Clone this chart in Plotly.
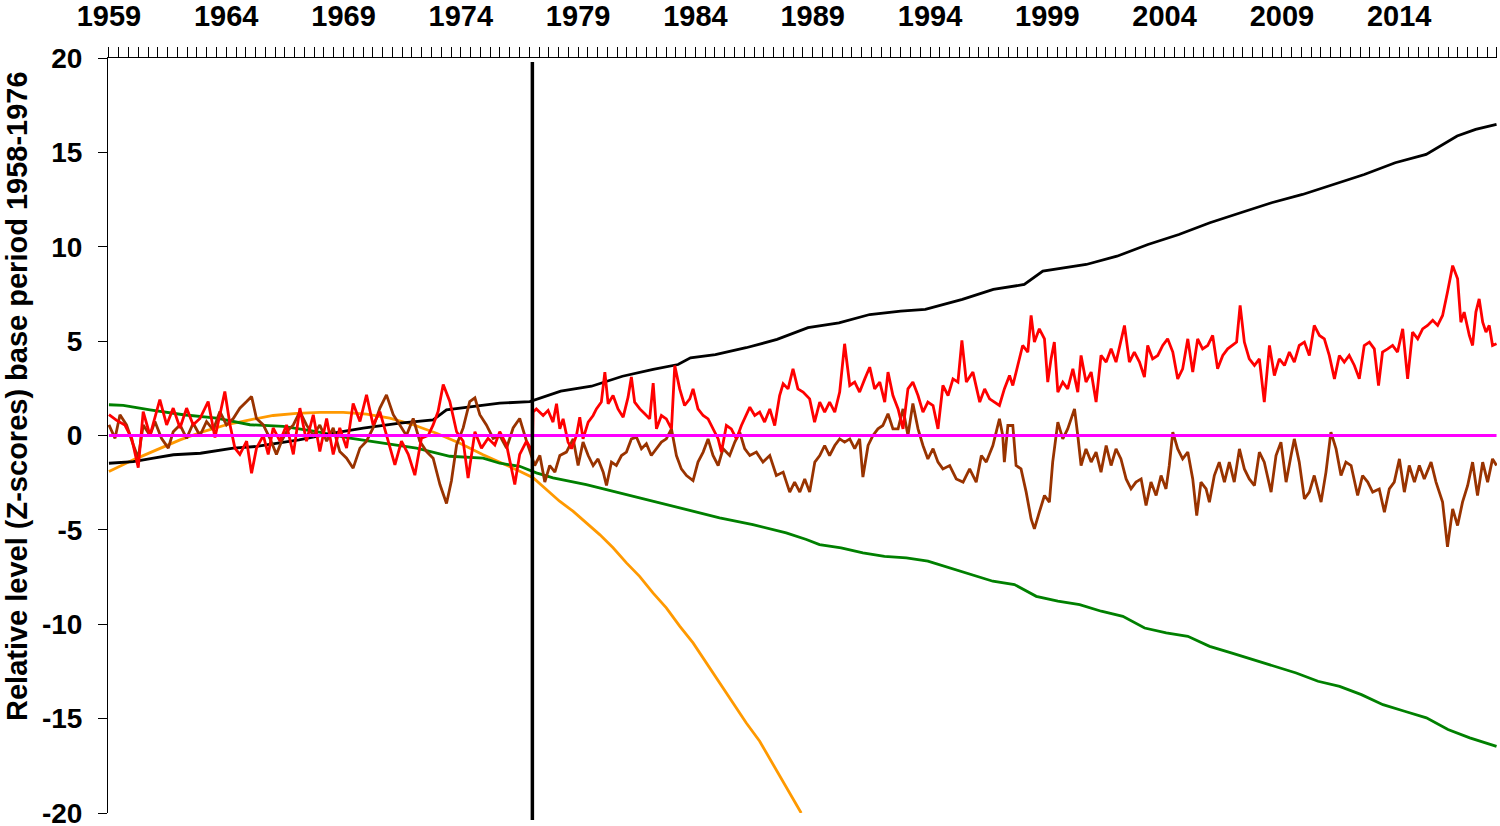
import plotly.graph_objects as go

# ---------------- data ----------------
red_x = [1959.00,1959.33,1959.68,1959.97,1960.25,1960.46,1960.75,1960.96,1961.17,1961.46,1961.74,1962.03,1962.31,1962.59,1962.88,1963.23,1963.52,1963.73,1963.94,1964.16,1964.37,1964.58,1964.87,1965.08,1965.29,1965.58,1965.79,1966.00,1966.29,1966.57,1966.86,1967.14,1967.42,1967.71,1967.99,1968.28,1968.56,1968.84,1969.13,1969.41,1969.70,1969.98,1970.26,1970.55,1970.83,1971.19,1971.47,1971.76,1972.04,1972.32,1972.61,1972.82,1973.03,1973.25,1973.53,1973.82,1974.10,1974.31,1974.60,1974.88,1975.16,1975.45,1975.66,1975.95,1976.30,1976.51,1976.80,1977.05,
         1977.08,1977.22,1977.51,1977.72,1977.93,1978.08,1978.22,1978.36,1978.57,1978.72,1978.93,1979.07,1979.21,1979.43,1979.64,1979.78,1979.99,1980.14,1980.28,1980.49,1980.70,1980.92,1981.13,1981.27,1981.41,1981.63,1981.84,1982.05,1982.20,1982.34,1982.55,1982.76,1982.98,1983.12,1983.33,1983.54,1983.76,1983.90,1984.11,1984.33,1984.54,1984.75,1984.97,1985.11,1985.32,1985.53,1985.75,1985.96,1986.17,1986.32,1986.53,1986.74,1986.95,1987.17,1987.38,1987.59,1987.74,1987.95,1988.16,1988.37,1988.59,1988.87,1989.08,1989.30,1989.51,1989.72,1989.94,1990.15,1990.36,1990.58,1990.79,1991.00,1991.22,1991.43,1991.64,1991.86,1992.07,1992.21,1992.42,1992.64,1992.85,1993.06,1993.27,1993.49,1993.70,1993.91,1994.13,1994.34,1994.55,1994.77,1994.98,1995.19,1995.36,1995.55,1995.83,1996.12,1996.33,1996.54,
         1996.96,1997.17,1997.39,1997.53,1997.74,1997.95,1998.17,1998.31,1998.45,1998.66,1998.88,1999.02,1999.16,1999.30,1999.45,1999.66,1999.87,2000.09,2000.30,2000.44,2000.65,2000.87,2001.08,2001.29,2001.51,2001.72,2001.93,2002.14,2002.29,2002.50,2002.71,2002.93,2003.14,2003.28,2003.49,2003.71,2003.92,2004.13,2004.35,2004.56,2004.77,2004.99,2005.20,2005.41,2005.62,2005.84,2006.05,2006.26,2006.48,2006.69,2006.90,2007.07,2007.22,2007.40,2007.61,2007.83,2008.04,2008.25,2008.47,2008.68,2008.89,2009.11,2009.32,2009.53,2009.74,2009.96,2010.17,2010.38,2010.60,2010.81,2011.02,2011.24,2011.45,2011.66,2011.87,2012.09,2012.30,2012.51,2012.73,2012.94,2013.12,2013.29,2013.51,2013.72,2013.93,2014.15,2014.36,2014.57,2014.79,2015.00,2015.21,2015.43,2015.64,2015.85,2016.06,2016.28,2016.49,2016.63,2016.77,2016.99,2017.13,2017.27,2017.41,2017.56,2017.70,2017.84,2017.98,2018.15]
red_y = [1.1,0.8,0.55,-0.15,-1.7,1.27,0.0,0.9,1.9,0.56,1.45,0.4,1.45,0.57,0.9,1.8,-0.1,1.1,2.33,0.57,-0.67,-1.0,-0.3,-2.0,-0.67,0.0,-1.0,0.4,-0.3,0.56,-1.0,1.45,-0.3,1.1,-0.85,0.9,-1.0,0.4,-0.67,1.7,0.74,2.15,0.56,1.27,0.0,-1.55,-0.3,-1.0,-2.1,-0.15,0.0,0.56,1.27,2.7,1.8,0.2,-0.3,-2.26,0.2,-0.67,-0.15,-0.5,0.2,-0.5,-2.6,-1.0,-0.3,-0.85,
         1.24,1.41,1.06,1.33,0.71,1.68,0.35,0.88,-0.35,-0.7,0.0,0.97,-0.18,0.71,1.06,1.41,1.77,3.36,1.68,2.12,1.41,0.97,2.03,3.1,1.77,1.41,1.15,0.88,2.77,0.35,1.06,0.88,0.35,3.7,2.47,1.59,1.94,2.47,1.41,1.06,0.88,0.35,-0.18,-0.88,0.53,0.35,-0.18,0.53,1.06,1.5,1.06,1.24,0.71,1.41,0.53,2.12,2.74,2.47,3.53,2.47,2.3,1.94,0.71,1.77,1.24,1.77,1.24,2.3,4.86,2.65,2.83,2.3,3.0,3.62,2.47,2.83,1.77,3.36,2.12,1.41,0.35,2.47,2.83,2.12,1.24,1.77,1.59,0.35,2.65,2.12,3.0,2.83,5.04,2.83,3.36,1.77,2.47,1.94,
         1.59,2.47,3.18,2.65,3.71,4.77,4.42,6.36,4.95,5.65,5.12,2.83,4.06,4.95,2.3,2.83,2.47,3.53,2.3,4.24,2.83,3.36,1.77,4.24,3.89,4.59,3.89,4.95,5.83,3.89,4.42,3.89,3.09,4.77,4.06,4.24,4.77,5.12,4.42,3.0,3.53,5.12,3.36,5.12,4.59,4.77,5.3,3.53,4.24,4.59,4.77,4.95,6.89,4.95,4.06,3.71,4.06,1.77,4.77,3.18,4.06,3.71,4.42,3.89,4.77,4.95,4.24,5.83,5.3,5.12,4.24,3.0,4.24,3.89,4.24,3.71,3.0,4.77,4.95,4.59,2.65,4.42,4.59,4.77,4.42,5.65,3.0,5.48,5.12,5.65,5.83,6.1,5.83,6.36,7.6,9.0,8.3,6.0,6.54,5.3,4.77,6.54,7.24,6.0,5.48,5.83,4.77,4.86]

brown_x = [1959.00,1959.26,1959.47,1959.75,1960.04,1960.25,1960.46,1960.75,1960.96,1961.24,1961.53,1961.74,1962.03,1962.31,1962.59,1962.88,1963.16,1963.45,1963.73,1964.01,1964.30,1964.58,1964.87,1965.08,1965.29,1965.58,1965.86,1966.14,1966.36,1966.57,1966.86,1967.14,1967.42,1967.71,1967.99,1968.28,1968.56,1968.84,1969.13,1969.41,1969.70,1969.98,1970.26,1970.55,1970.83,1971.12,1971.40,1971.68,1971.97,1972.25,1972.54,1972.82,1973.11,1973.39,1973.60,1973.82,1974.10,1974.38,1974.60,1974.81,1975.09,1975.38,1975.66,1975.95,1976.23,1976.51,1976.80,1977.05,
           1977.15,1977.37,1977.58,1977.79,1978.01,1978.22,1978.50,1978.79,1979.00,1979.21,1979.43,1979.64,1979.85,1980.07,1980.21,1980.42,1980.63,1980.85,1981.06,1981.27,1981.49,1981.70,1981.91,1982.12,1982.34,1982.55,1982.76,1982.98,1983.19,1983.40,1983.62,1983.90,1984.11,1984.33,1984.54,1984.75,1984.97,1985.18,1985.46,1985.68,1985.89,1986.10,1986.32,1986.60,1986.88,1987.17,1987.45,1987.74,1988.02,1988.23,1988.45,1988.66,1988.87,1989.09,1989.30,1989.51,1989.72,1989.94,1990.15,1990.36,1990.58,1990.79,1991.00,1991.14,1991.36,1991.57,1991.78,1991.99,1992.21,1992.42,1992.64,1992.85,1993.06,1993.27,1993.49,1993.70,1993.91,1994.13,1994.34,1994.55,1994.84,1995.12,1995.41,1995.69,1995.97,1996.19,1996.40,1996.68,
           1996.96,1997.10,1997.17,1997.32,1997.53,1997.67,1997.88,1998.10,1998.31,1998.45,1998.66,1998.88,1999.09,1999.23,1999.45,1999.66,1999.87,2000.16,2000.30,2000.44,2000.65,2000.87,2001.08,2001.29,2001.51,2001.72,2001.93,2002.14,2002.36,2002.57,2002.78,2003.00,2003.21,2003.42,2003.64,2003.85,2004.06,2004.20,2004.35,2004.56,2004.77,2004.99,2005.20,2005.37,2005.55,2005.77,2005.91,2006.12,2006.33,2006.55,2006.76,2006.97,2007.19,2007.40,2007.61,2007.83,2008.04,2008.25,2008.54,2008.75,2008.96,2009.18,2009.39,2009.53,2009.74,2009.96,2010.17,2010.38,2010.67,2010.88,2011.09,2011.31,2011.52,2011.73,2011.95,2012.23,2012.44,2012.66,2012.87,2013.15,2013.37,2013.58,2013.79,2014.01,2014.22,2014.43,2014.65,2014.86,2015.07,2015.36,2015.57,2015.85,2016.06,2016.28,2016.49,2016.70,2016.92,2017.13,2017.34,2017.56,2017.77,2017.98,2018.15]
brown_y = [0.56,-0.15,1.1,0.56,-0.5,-1.2,0.56,0.0,0.74,-0.15,-0.67,0.2,0.56,-0.15,0.65,0.0,0.74,0.3,1.27,0.56,0.9,1.45,1.8,2.07,0.9,0.56,-0.15,-1.0,-0.3,0.2,0.56,1.27,0.56,0.0,0.56,-0.3,0.4,-0.85,-1.2,-1.73,-0.67,-0.3,0.4,1.45,2.15,1.1,0.56,0.0,0.9,-0.3,-0.85,-1.2,-2.6,-3.6,-2.4,-0.5,0.4,1.8,2.0,1.1,0.56,-0.15,0.0,-0.67,0.4,0.9,-0.3,-1.2,
           -1.59,-1.06,-2.47,-1.59,-1.94,-1.06,-0.88,-0.18,-1.59,-0.35,-1.06,-1.59,-1.24,-1.94,-2.65,-1.41,-1.59,-1.06,-0.88,-0.18,-0.09,-0.7,-0.44,-1.06,-0.7,-0.35,-0.18,0.35,-1.06,-1.77,-2.12,-2.39,-1.41,-0.88,-0.18,-1.06,-1.59,-0.7,-1.06,-0.35,0.18,-0.7,-1.06,-0.88,-1.41,-1.06,-2.12,-1.94,-3.0,-2.47,-3.0,-2.3,-3.0,-1.41,-1.06,-0.53,-1.06,-0.53,-0.18,-0.35,-0.18,-0.7,-0.18,-2.2,-0.53,0.0,0.35,0.53,1.15,0.35,0.35,1.41,0.0,1.7,0.35,-0.53,-1.24,-0.7,-1.41,-1.77,-1.59,-2.3,-2.47,-1.77,-2.47,-1.06,-1.41,-0.53,
           0.88,0.0,-1.41,0.53,0.53,-1.59,-1.77,-3.0,-4.42,-4.95,-4.06,-3.18,-3.53,-1.41,0.71,-0.18,0.35,1.41,0.0,-1.59,-0.71,-1.41,-0.88,-1.94,-0.53,-1.59,-0.71,-1.24,-2.3,-2.83,-2.47,-2.3,-3.71,-2.47,-3.18,-2.12,-2.83,-1.59,0.18,-0.71,-1.24,-0.88,-2.3,-4.24,-2.47,-2.83,-3.53,-2.12,-1.41,-2.47,-1.41,-2.47,-0.71,-1.77,-2.3,-2.65,-0.88,-1.41,-3.0,-1.06,-0.35,-2.47,-1.06,-0.18,-1.41,-3.36,-3.0,-2.12,-3.53,-1.94,0.18,-0.71,-2.12,-1.41,-1.59,-3.18,-2.12,-2.47,-3.0,-2.83,-4.06,-2.83,-2.47,-1.24,-3.0,-1.59,-2.47,-1.59,-2.3,-1.41,-2.47,-3.53,-5.9,-3.89,-4.77,-3.53,-2.65,-1.41,-3.18,-1.41,-2.47,-1.24,-1.59]

black_x = [1959.0,1960.04,1960.9,1961.75,1962.9,1964.3,1965.3,1967.1,1968.56,1969.84,1971.4,1972.82,1973.39,1974.24,1975.66,1976.94,1978.26,1979.57,1980.89,1982.2,1983.26,1983.79,1984.85,1986.16,1987.48,1988.8,1990.12,1991.43,1992.75,1993.8,1995.38,1996.7,1998.02,1998.81,2000.66,2001.97,2003.29,2004.61,2005.93,2007.24,2008.56,2009.88,2011.2,2012.51,2013.83,2015.15,2016.47,2017.26,2018.15]
black_y = [-1.47,-1.38,-1.2,-1.02,-0.94,-0.67,-0.58,-0.23,0.12,0.39,0.65,0.83,1.36,1.48,1.71,1.8,2.35,2.61,3.14,3.5,3.76,4.12,4.29,4.65,5.09,5.71,5.97,6.41,6.59,6.68,7.21,7.74,8.0,8.71,9.06,9.5,10.12,10.65,11.27,11.8,12.33,12.77,13.3,13.83,14.45,14.89,15.87,16.22,16.48]

green_x = [1959.0,1959.61,1960.75,1962.17,1963.59,1965.01,1966.43,1967.85,1969.27,1970.69,1972.11,1973.53,1974.95,1975.66,1976.51,1977.22,1977.93,1979.35,1980.77,1982.19,1983.61,1985.03,1986.45,1987.87,1988.73,1989.29,1990.21,1991.14,1992.06,1992.99,1993.91,1994.83,1995.76,1996.68,1997.6,1998.53,1999.45,2000.38,2001.3,2002.22,2003.15,2004.07,2004.99,2005.92,2006.84,2007.77,2008.69,2009.61,2010.54,2011.46,2012.39,2013.31,2014.23,2015.16,2016.08,2017.01,2018.15]
green_y = [1.63,1.6,1.36,1.1,0.92,0.57,0.48,0.2,-0.14,-0.4,-0.67,-1.1,-1.2,-1.47,-1.63,-1.98,-2.24,-2.6,-3.04,-3.48,-3.92,-4.36,-4.72,-5.16,-5.51,-5.78,-5.95,-6.22,-6.4,-6.48,-6.66,-7.01,-7.37,-7.72,-7.9,-8.52,-8.78,-8.96,-9.31,-9.58,-10.2,-10.46,-10.64,-11.17,-11.52,-11.87,-12.23,-12.58,-13.02,-13.29,-13.73,-14.26,-14.61,-14.96,-15.58,-16.02,-16.47]

orange_x = [1959.0,1960.04,1961.03,1962.03,1963.02,1964.01,1965.01,1966.0,1967.0,1967.99,1968.99,1969.98,1970.97,1971.97,1972.96,1973.96,1974.95,1975.95,1976.51,1977.08,1977.65,1978.21,1978.78,1979.35,1979.92,1980.49,1981.06,1981.62,1982.19,1982.76,1983.33,1983.9,1984.46,1985.03,1985.6,1986.17,1986.74,1987.31,1987.87,1988.51]
orange_y = [-1.91,-1.29,-0.76,-0.23,0.21,0.57,0.83,1.06,1.17,1.22,1.22,1.13,0.92,0.57,0.12,-0.41,-1.02,-1.55,-1.89,-2.24,-2.86,-3.48,-4.01,-4.63,-5.25,-5.95,-6.75,-7.46,-8.34,-9.13,-10.1,-10.99,-12.05,-13.1,-14.17,-15.23,-16.2,-17.44,-18.6,-20.0]

base_x = [1959.0, 2018.15]
base_y = [0, 0]

base_period_end = 1977.05
year_ticks = [1959, 1964, 1969, 1974, 1979, 1984, 1989, 1994, 1999, 2004, 2009, 2014]
y_ticks = [-20, -15, -10, -5, 0, 5, 10, 15, 20]
y_title = "Relative level (Z-scores) base period 1958-1976"

# ---------------- figure ----------------
FONT = "Liberation Sans, Arial, sans-serif"
W, H = 1500, 826
ML, MR, MT, MB = 108, 3, 58, 13
PW, PH = W - ML - MR, H - MT - MB

fig = go.Figure()

def add_line(x, y, color, width=2.8):
    fig.add_trace(go.Scatter(x=x, y=y, mode="lines", line=dict(color=color, width=width),
                             showlegend=False, hoverinfo="skip"))

add_line(orange_x, orange_y, "#FF9900")
add_line(green_x, green_y, "#008000")
add_line(black_x, black_y, "#000000")
add_line(brown_x, brown_y, "#993300")
add_line(red_x, red_y, "#FF0000")
add_line(base_x, base_y, "#FF00FF")

fig.add_shape(type="line", xref="x", yref="paper", x0=base_period_end, x1=base_period_end,
              y0=-7/PH, y1=(813-62)/PH, line=dict(color="black", width=3.5))

fig.add_annotation(text=y_title, textangle=-90, xref="paper", yref="paper",
                   x=(17-ML)/PW, xanchor="center", y=(813-396)/PH, yanchor="middle",
                   borderpad=0, showarrow=False,
                   font=dict(family=FONT, size=29, color="black", weight="bold"))

fig.update_layout(
    width=W, height=H,
    margin=dict(l=ML, r=MR, t=MT, b=MB),
    paper_bgcolor="white", plot_bgcolor="white",
    showlegend=False,
    xaxis=dict(
        range=[1958.96, 2018.17], side="top", showgrid=False, zeroline=False,
        automargin=False, ticklabeloverflow="allow",
        showline=True, linecolor="black", linewidth=1,
        tickmode="array", tickvals=year_ticks, ticktext=[str(v) for v in year_ticks],
        ticks="outside", ticklen=10, tickwidth=1, tickcolor="black",
        ticklabelstandoff=9,
        tickfont=dict(family=FONT, size=29, color="black", weight="bold"),
        minor=dict(ticks="outside", ticklen=10, tickwidth=1, tickcolor="black",
                   tickmode="linear", tick0=1959, dtick=5/12, showgrid=False),
    ),
    yaxis=dict(
        range=[-20, 20], showgrid=False, zeroline=False,
        automargin=False, ticklabeloverflow="allow",
        showline=True, linecolor="black", linewidth=1,
        tickmode="array", tickvals=y_ticks, ticktext=[str(v) for v in y_ticks],
        ticks="outside", ticklen=9, tickwidth=1, tickcolor="black",
        ticklabelstandoff=10,
        tickfont=dict(family=FONT, size=28, color="black", weight="bold"),
    ),
)

fig.write_html("out.html", config={"displayModeBar": False},
               post_script="document.body.style.margin='0';document.body.style.padding='0';")
